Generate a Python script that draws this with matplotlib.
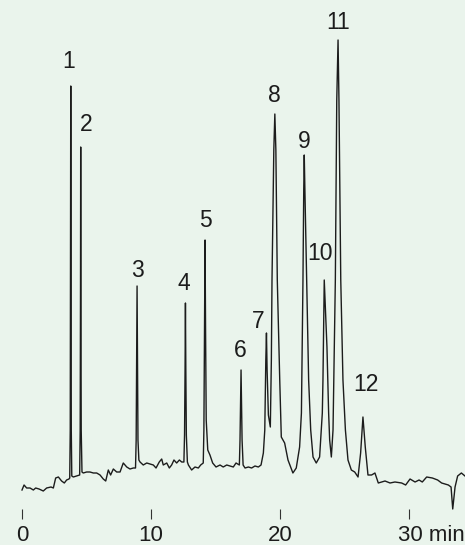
import matplotlib
matplotlib.use("Agg")
import matplotlib.pyplot as plt

# =========================================================
# CHROMATOGRAM TRACE (time in min, detector signal, a.u.)
# =========================================================

time_min = [
    0.00, 0.16, 0.36, 0.62, 0.88, 1.06, 1.32, 1.65, 1.91, 2.25, 2.43, 2.61,
    2.82, 3.07, 3.28, 3.46, 3.64,
    3.70, 3.74, 3.765, 3.78, 3.795, 3.82, 3.86,
    3.98, 4.24,
    4.47, 4.51, 4.535, 4.55, 4.565, 4.59, 4.65,
    4.75, 5.01, 5.27, 5.53, 5.79, 6.05, 6.30, 6.49, 6.69, 6.87, 7.08, 7.34,
    7.60, 7.85, 8.12, 8.37, 8.63,
    8.80, 8.85, 8.89, 8.92, 8.95, 8.99, 9.06,
    9.15, 9.40, 9.67, 9.92, 10.18, 10.39, 10.64, 10.83, 10.95, 11.22, 11.42,
    11.60, 11.78, 11.99, 12.20, 12.38,
    12.55, 12.60, 12.64, 12.67, 12.70, 12.74, 12.82,
    12.90, 13.15, 13.41, 13.67, 13.85,
    14.05, 14.10, 14.15, 14.19, 14.23, 14.28, 14.40, 14.57, 14.78,
    15.04, 15.35, 15.60, 15.87, 16.12, 16.38, 16.59,
    16.85, 16.90, 16.95, 16.98, 17.01, 17.06, 17.14,
    17.29, 17.55, 17.80, 18.06, 18.32, 18.53, 18.71,
    18.82, 18.90, 18.95, 19.00, 19.10, 19.25,
    19.33, 19.38, 19.52, 19.60, 19.68, 19.79, 19.98, 20.10, 20.36, 20.62,
    21.00, 21.26, 21.52,
    21.66, 21.78, 21.84, 21.88, 21.93, 22.07, 22.22, 22.38, 22.56, 22.81,
    23.07, 23.28, 23.33, 23.43, 23.64, 23.77, 23.85, 23.98,
    24.11, 24.29, 24.40, 24.50, 24.57, 24.71, 24.88, 25.07, 25.27, 25.53,
    25.79, 26.05, 26.25, 26.43, 26.61, 26.82,
    27.10, 27.36, 27.62, 28.14, 28.53, 28.91, 29.43, 29.74, 30.08, 30.47,
    30.78, 31.03, 31.37, 31.81, 32.22, 32.53, 33.05, 33.26, 33.39, 33.57,
    33.77, 34.06, 34.34,
]

signal = [
    0, 5, 2, 2, 0, 2, 1, -1, 2, 3, 2, 12,
    13, 9, 7, 10, 11,
    12, 60, 250, 404, 250, 60, 14,
    13, 14,
    15, 60, 200, 343, 200, 60, 18,
    17, 18, 18, 17, 17, 15, 11, 9, 20, 15, 21, 18,
    18, 27, 23, 21, 22,
    22, 50, 130, 204, 130, 50, 30,
    28, 25, 27, 26, 25, 22, 28, 31, 25, 27, 22,
    25, 30, 27, 30, 28,
    28, 55, 120, 187, 120, 55, 28,
    25, 20, 23, 22, 25,
    27, 60, 160, 250, 160, 70, 40, 35, 27,
    23, 25, 23, 25, 24, 23, 27,
    25, 50, 95, 120, 95, 50, 25,
    22, 23, 22, 24, 23, 25, 37,
    60, 130, 157, 120, 75, 63,
    130, 210, 340, 376, 340, 210, 110, 53, 47, 30,
    17, 22, 43,
    77, 210, 300, 335, 300, 210, 110, 60, 33, 27,
    33, 77, 110, 210, 143, 77, 50, 33,
    60, 210, 390, 450, 390, 210, 110, 60, 30, 20,
    18, 13, 37, 73, 43, 15,
    15, 17, 7, 9, 7, 8, 7, 5, 11, 8,
    10, 8, 13, 12, 10, 7, 5, 3, -19, 3,
    14, 17, 14,
]

# =========================================================
# PEAK LABELS
# =========================================================

peak_ids = ["1", "2", "3", "4", "5", "6", "7", "8", "9", "10", "11", "12"]
peak_time = [3.78, 4.55, 8.92, 12.67, 14.19, 16.98, 18.95, 19.60, 21.88,
             23.43, 24.50, 26.43]
peak_height = [404, 343, 204, 187, 250, 120, 157, 376, 335, 210, 450, 73]

# label offsets from apex, in pixels (layout only)
label_dx = [-2, 5, 0, -2, 0, -1, -8, 0, 0, -4, 0, 3]
label_dy = [18, 16, 9, 13, 13, 13, 5, 12, 7, 20, 11, 26]

tick_pos = [0, 10, 20, 30]
tick_text = ["0", "10", "20", "30 min"]

# =========================================================
# PLOT
# =========================================================

bg = "#eaf4ec"
ink = "#1c1c1c"

fig = plt.figure(figsize=(4.65, 5.45), dpi=100, facecolor=bg)
ax = fig.add_axes([0, 36 / 545, 1, 509 / 545])
ax.set_facecolor(bg)

ax.plot(time_min, signal, color=ink, lw=1.0, clip_on=False)

ax.set_xlim(-22 / 12.9, 443 / 12.9)
ax.set_ylim(-19, 490)

for s in ax.spines.values():
    s.set_visible(False)

ax.set_yticks([])
ax.set_xticks(tick_pos)
ax.tick_params(axis="x", direction="out", length=7.2, width=0.8,
               color="#333333", labelbottom=False)

font = "Liberation Sans"

for t, txt in zip(tick_pos, tick_text):
    # "30 min" starts just left of its tick, the others are centred
    is_last = txt.endswith("min")
    ax.annotate(txt, xy=(t, 0), xycoords=ax.get_xaxis_transform(),
                xytext=(-11 if is_last else 0, -32),
                textcoords="offset pixels",
                ha="left" if is_last else "center", va="baseline",
                fontsize=16, family=font, color=ink,
                annotation_clip=False)

for lab, t, h, dx, dy in zip(peak_ids, peak_time, peak_height,
                             label_dx, label_dy):
    ax.annotate(lab, xy=(t, h), xytext=(dx, dy), textcoords="offset pixels",
                ha="center", va="baseline", fontsize=16.5,
                family=font, color=ink)

fig.savefig("out.png", dpi=100, facecolor=bg)
